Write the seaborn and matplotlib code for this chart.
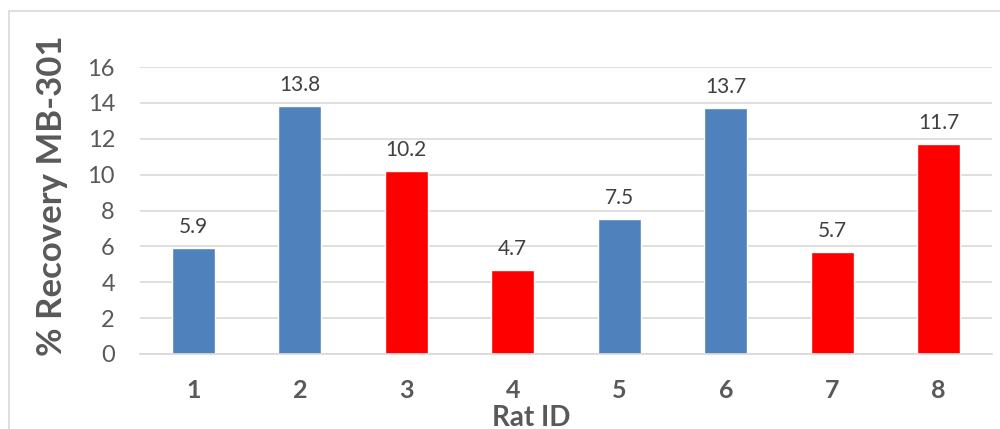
import matplotlib
matplotlib.use("Agg")
import matplotlib.pyplot as plt
import matplotlib.patches as mpatches
import seaborn as sns
import pandas as pd

rat_ids = ["1", "2", "3", "4", "5", "6", "7", "8"]
recovery = [5.9, 13.8, 10.2, 4.7, 7.5, 13.7, 5.7, 11.7]
groups = ["A", "A", "B", "B", "A", "A", "B", "B"]
group_colors = {"A": "#4F81BD", "B": "#FF0000"}
y_ticks = [0, 2, 4, 6, 8, 10, 12, 14, 16]

sns.set_theme(style="white")
plt.rcParams["font.family"] = ["Lato", "DejaVu Sans"]

df = pd.DataFrame({"rat": rat_ids, "recovery": recovery, "group": groups})

fig = plt.figure(figsize=(10, 4.29), dpi=100)
ax = fig.add_axes([0.14, 1 - 354 / 429, 0.852, (354 - 67) / 429])

sns.barplot(data=df, x="rat", y="recovery", hue="group", palette=group_colors,
            dodge=False, width=0.4, legend=False, saturation=1, ax=ax)

for cont in ax.containers:
    ax.bar_label(cont, fmt="%.1f", padding=8, fontsize=15, color="#404040")

ax.set_ylim(0, 16)
ax.set_yticks(y_ticks)
ax.set_xlim(-0.5, len(rat_ids) - 0.5)
ax.yaxis.grid(True, color="#D9D9D9", linewidth=1.2)
ax.set_axisbelow(True)
for s in ["top", "right", "left"]:
    ax.spines[s].set_visible(False)
ax.spines["bottom"].set_color("#D9D9D9")
ax.spines["bottom"].set_linewidth(1.2)

ax.tick_params(axis="y", labelsize=17, colors="#595959", length=0, pad=18)
ax.tick_params(axis="x", labelsize=18, colors="#595959", length=0, pad=18)
for lbl in ax.get_xticklabels():
    lbl.set_fontweight("bold")

ax.set_xlabel("Rat ID", fontsize=20, fontweight="bold", color="#595959")
ax.xaxis.set_label_coords(0.459, -0.176)
ax.set_ylabel("% Recovery MB-301", fontsize=25, fontweight="bold", color="#595959")
ax.yaxis.set_label_coords(-0.085, 0.55)

top = 1 - 11 / 429
border = mpatches.Rectangle((0.009, -0.2), 1.2, top + 0.2,
                            transform=fig.transFigure, fill=False,
                            edgecolor="#D9D9D9", linewidth=1.2)
fig.patches.append(border)

fig.savefig("out.png", dpi=100)
